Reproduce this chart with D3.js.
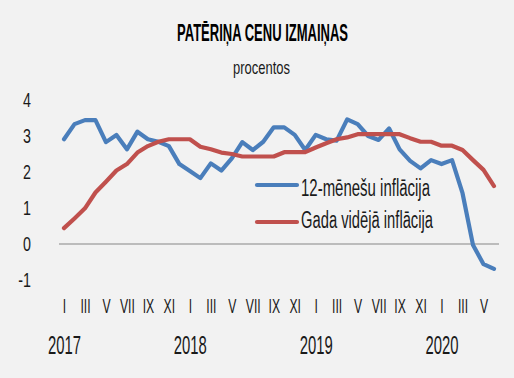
<!DOCTYPE html>
<html>
<head>
<meta charset="utf-8">
<script src="https://cdn.jsdelivr.net/npm/d3@7"></script>
<style>
  html, body { margin: 0; padding: 0; background: #f2f2f2; }
  svg { display: block; }
  text { font-family: "Liberation Sans", Arial, sans-serif; fill: #1a1a1a; }
</style>
</head>
<body>
<script>
// ---- data ----
const months = ["I","II","III","IV","V","VI","VII","VIII","IX","X","XI","XII"];
const years = ["2017","2018","2019","2020"];
const inflation12m = [
  2.91, 3.33, 3.44, 3.44, 2.83, 3.03, 2.63, 3.12, 2.91, 2.84, 2.72, 2.22,
  2.03, 1.83, 2.24, 2.04, 2.38, 2.83, 2.61, 2.84, 3.24, 3.24, 3.03, 2.61,
  3.03, 2.91, 2.87, 3.46, 3.33, 3.00, 2.89, 3.21, 2.63, 2.31, 2.10, 2.33,
  2.22, 2.33, 1.41, -0.03, -0.56, -0.69
];
const inflationAvg = [
  0.44, 0.71, 0.99, 1.43, 1.73, 2.04, 2.22, 2.54, 2.72, 2.84, 2.91, 2.91,
  2.91, 2.70, 2.63, 2.54, 2.50, 2.43, 2.43, 2.43, 2.43, 2.55, 2.55, 2.55,
  2.68, 2.80, 2.91, 2.96, 3.05, 3.05, 3.05, 3.05, 3.05, 2.94, 2.84, 2.84,
  2.73, 2.73, 2.61, 2.33, 2.06, 1.61
];
const yTicks = [-1, 0, 1, 2, 3, 4];
const seriesNames = ["12-mēnešu inflācija", "Gada vidējā inflācija"];
const seriesColors = ["#4a7ebb", "#c0504d"];
const title = "PATĒRIŅA CENU IZMAIŅAS";
const subtitle = "procentos";

// ---- chart ----
const W = 514, H = 378;
const svg = d3.select("body").append("svg").attr("width", W).attr("height", H);
svg.append("rect").attr("width", W).attr("height", H).attr("fill", "#f2f2f2");

const n = inflation12m.length;
const x = d3.scaleLinear().domain([0, n - 1]).range([64, 494]);
const y = d3.scaleLinear().domain([-1, 4]).range([280, 100]);

// title
svg.append("text").attr("x", 262.5).attr("y", 41).attr("text-anchor", "middle")
  .attr("font-size", 24).attr("font-weight", "bold").attr("textLength", 171).attr("lengthAdjust", "spacingAndGlyphs")
  .style("fill", "#000").text(title);
svg.append("text").attr("x", 261.5).attr("y", 74).attr("text-anchor", "middle")
  .attr("font-size", 19).attr("textLength", 57).attr("lengthAdjust", "spacingAndGlyphs")
  .text(subtitle);

// zero line
svg.append("line").attr("x1", 59).attr("x2", 499).attr("y1", y(0)).attr("y2", y(0))
  .attr("stroke", "#868686").attr("stroke-width", 1);

// y axis
const yAxis = d3.axisLeft(y).tickValues(yTicks).tickSize(0).tickPadding(0)
  .tickFormat(d => String(d));
const gy = svg.append("g").attr("transform", "translate(31,0)").call(yAxis);
gy.select(".domain").remove();
gy.attr("font-family", null).attr("font-size", null);
gy.selectAll("text").attr("font-size", 21).attr("dy", null).attr("x", 0).attr("y", 6.5)
  .attr("transform", "scale(0.68,1)");

// x axis (odd months)
const monthIdx = d3.range(0, n, 2);
const xAxis = d3.axisBottom(x).tickValues(monthIdx).tickSize(0).tickPadding(0)
  .tickFormat(i => months[i % 12]);
const gx = svg.append("g").attr("transform", "translate(0,313)").call(xAxis);
gx.select(".domain").remove();
gx.attr("font-family", null).attr("font-size", null);
gx.selectAll("text").attr("font-size", 21).attr("dy", null).attr("y", 0)
  .attr("transform", "scale(0.58,1)");

// years
const yearAxis = d3.axisBottom(x).tickValues(years.map((d, i) => i * 12)).tickSize(0).tickPadding(0)
  .tickFormat((d, i) => years[i]);
const gyr = svg.append("g").attr("transform", "translate(0,354)").call(yearAxis);
gyr.select(".domain").remove();
gyr.attr("font-family", null).attr("font-size", null);
gyr.selectAll("text").attr("font-size", 26.5).attr("dy", null).attr("y", 0)
  .attr("transform", "scale(0.56,1)");

// lines
const line = d3.line().x((d, i) => x(i)).y(d => y(d));
[inflation12m, inflationAvg].forEach((s, k) => {
  svg.append("path").datum(s).attr("d", line).attr("fill", "none")
    .attr("stroke", seriesColors[k]).attr("stroke-width", 4.2)
    .attr("stroke-linejoin", "round").attr("stroke-linecap", "round");
});

// legend
const legY = [185, 222];
const legBase = [196, 228];
const legW = [129, 132];
seriesNames.forEach((name, k) => {
  svg.append("line").attr("x1", 257).attr("x2", 297).attr("y1", legY[k]).attr("y2", legY[k])
    .attr("stroke", seriesColors[k]).attr("stroke-width", 4.2).attr("stroke-linecap", "round");
  svg.append("text").attr("x", 301).attr("y", legBase[k]).attr("font-size", 23)
    .attr("textLength", legW[k]).attr("lengthAdjust", "spacingAndGlyphs").text(name);
});
</script>
</body>
</html>
